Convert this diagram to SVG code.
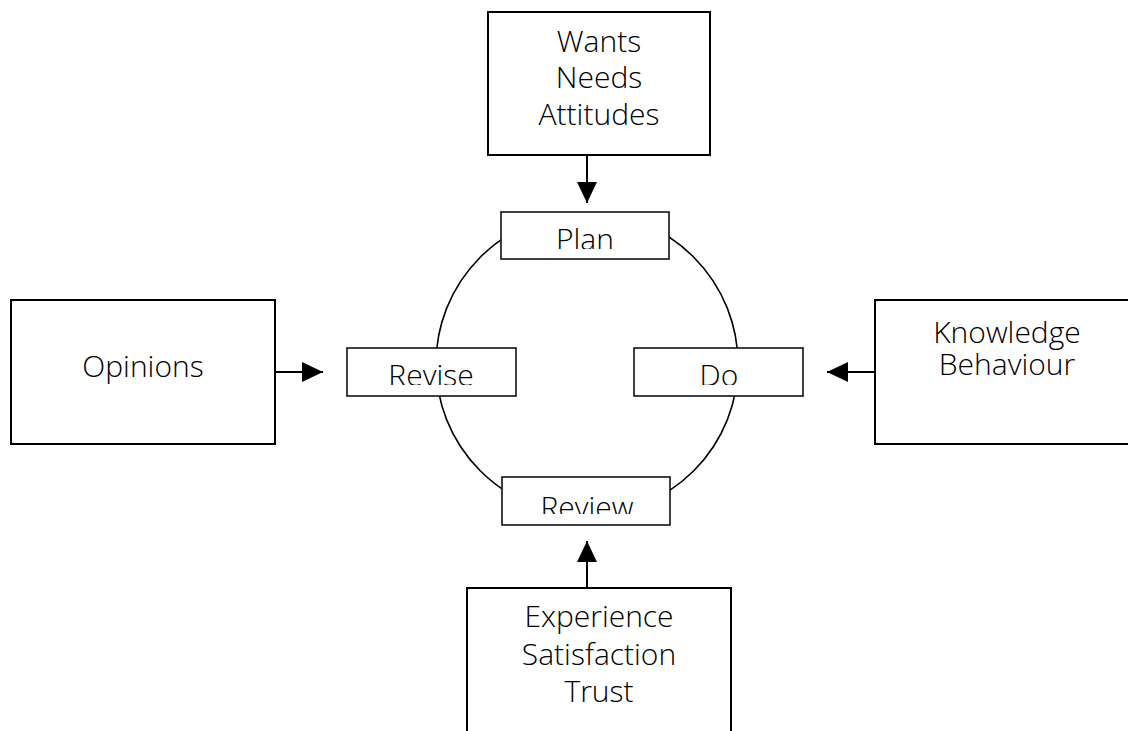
<svg xmlns="http://www.w3.org/2000/svg" width="1128" height="731" viewBox="0 0 1128 731">
  <style>
    .box { fill: #ffffff; stroke: #000000; stroke-width: 2; }
    .step { fill: #ffffff; stroke: #111111; stroke-width: 1.6; }
    .ring { fill: none; stroke: #000000; stroke-width: 1.6; }
    .link { stroke: #000000; stroke-width: 2; fill: none; }
    text { font-family: "Open Sans", "Noto Sans", "Liberation Sans", sans-serif; font-size: 30px; font-weight: 300; fill: #000000; text-anchor: middle; }
  </style>
  <defs>
    <marker id="head" viewBox="0 0 21 20" refX="21" refY="10" markerWidth="21" markerHeight="20" markerUnits="userSpaceOnUse" orient="auto">
      <path d="M0,0 L21,10 L0,20 Z" fill="#000000"/>
    </marker>
    <!-- the step labels are cut off just above the lower edge of their boxes -->
    <clipPath id="clip-plan"><rect x="501" y="212" width="168" height="37"/></clipPath>
    <clipPath id="clip-revise"><rect x="347" y="348" width="169" height="37"/></clipPath>
    <clipPath id="clip-do"><rect x="634" y="348" width="169" height="37"/></clipPath>
    <clipPath id="clip-review"><rect x="502" y="477" width="168" height="37"/></clipPath>
  </defs>

  <rect width="1128" height="731" fill="#ffffff"/>

  <!-- cycle ring -->
  <circle class="ring" cx="587" cy="364" r="151"/>

  <!-- connectors -->
  <g id="connectors">
    <line class="link" x1="587" y1="155" x2="587" y2="203" marker-end="url(#head)"/>
    <line class="link" x1="275" y1="372" x2="323" y2="372" marker-end="url(#head)"/>
    <line class="link" x1="875" y1="372" x2="827" y2="372" marker-end="url(#head)"/>
    <line class="link" x1="587" y1="588" x2="587" y2="541" marker-end="url(#head)"/>
  </g>

  <!-- input boxes -->
  <g id="wants">
    <rect class="box" x="488" y="12" width="222" height="143"/>
    <text x="599" y="52">Wants</text>
    <text x="599" y="88">Needs</text>
    <text x="599" y="125">Attitudes</text>
  </g>
  <g id="opinions">
    <rect class="box" x="11" y="300" width="264" height="144"/>
    <text x="143" y="377">Opinions</text>
  </g>
  <g id="knowledge">
    <rect class="box" x="875" y="300" width="264" height="144"/>
    <text x="1007" y="343">Knowledge</text>
    <text x="1007" y="375">Behaviour</text>
  </g>
  <g id="experience">
    <rect class="box" x="467" y="588" width="264" height="160"/>
    <text x="599" y="627">Experience</text>
    <text x="599" y="665">Satisfaction</text>
    <text x="599" y="702">Trust</text>
  </g>

  <!-- cycle steps -->
  <g id="plan">
    <rect class="step" x="501" y="212" width="168" height="47"/>
    <text x="585" y="250" clip-path="url(#clip-plan)">Plan</text>
  </g>
  <g id="revise">
    <rect class="step" x="347" y="348" width="169" height="48"/>
    <text x="431" y="386" clip-path="url(#clip-revise)">Revise</text>
  </g>
  <g id="do">
    <rect class="step" x="634" y="348" width="169" height="48"/>
    <text x="719" y="386" clip-path="url(#clip-do)">Do</text>
  </g>
  <g id="review">
    <rect class="step" x="502" y="477" width="168" height="48"/>
    <text x="587" y="518" clip-path="url(#clip-review)">Review</text>
  </g>
</svg>
